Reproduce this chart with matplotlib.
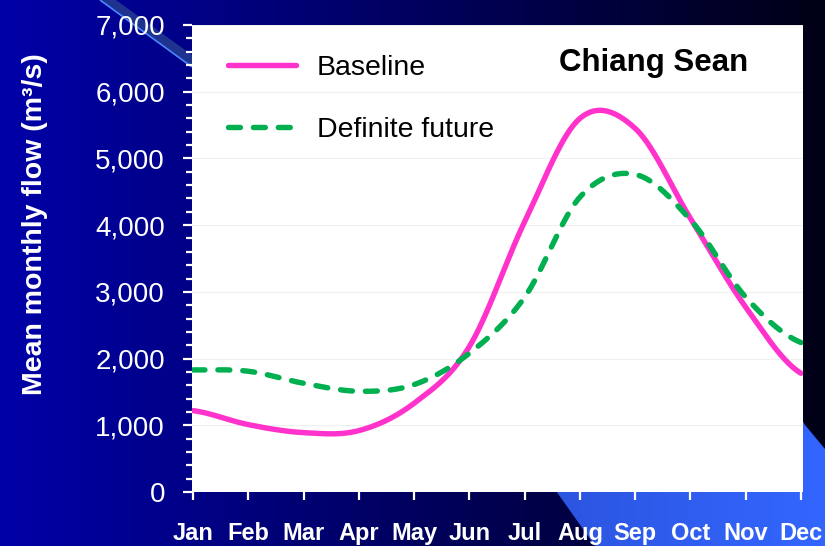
import numpy as np
import matplotlib
matplotlib.use("Agg")
import matplotlib.pyplot as plt
from matplotlib.ticker import MultipleLocator, FixedLocator, FixedFormatter
from matplotlib.patches import Polygon

# ---- data -------------------------------------------------------------
months = ["Jan", "Feb", "Mar", "Apr", "May", "Jun",
          "Jul", "Aug", "Sep", "Oct", "Nov", "Dec"]
baseline = [1220, 1010, 890, 920, 1330, 2180, 4050, 5600, 5450, 4100, 2770, 1780]
definite_future = [1830, 1810, 1630, 1510, 1610, 2080, 2920, 4420, 4760, 4080, 2920, 2240]
y_ticks = [0, 1000, 2000, 3000, 4000, 5000, 6000, 7000]
y_tick_labels = ["0", "1,000", "2,000", "3,000", "4,000", "5,000", "6,000", "7,000"]
station = "Chiang Sean"
y_title = "Mean monthly flow (m³/s)"


def smooth(values, steps=40):
    """Catmull-Rom spline through evenly spaced points (like a smoothed line)."""
    y = np.asarray(values, float)
    p = np.concatenate([[y[0]], y, [y[-1]]])
    xs, ys = [], []
    t = np.linspace(0, 1, steps, endpoint=False)
    for i in range(len(y) - 1):
        p0, p1, p2, p3 = p[i], p[i + 1], p[i + 2], p[i + 3]
        seg = 0.5 * ((2 * p1) + (-p0 + p2) * t
                     + (2 * p0 - 5 * p1 + 4 * p2 - p3) * t ** 2
                     + (-p0 + 3 * p1 - 3 * p2 + p3) * t ** 3)
        xs.append(i + t)
        ys.append(seg)
    xs.append([len(y) - 1])
    ys.append([y[-1]])
    return np.concatenate(xs), np.concatenate(ys)


W, H = 825, 546
fig = plt.figure(figsize=(W / 100, H / 100), dpi=100)

# ---- slide background -------------------------------------------------
bg = fig.add_axes([0, 0, 1, 1], zorder=-10)
bg.set_xlim(0, W)
bg.set_ylim(H, 0)
bg.axis("off")
grad = np.linspace(0, 1, 256)
cols = np.zeros((1, 256, 3))
cols[0, :, 2] = (168 - 146 * grad) / 255
bg.imshow(cols, extent=[0, W, H, 0], aspect="auto", interpolation="bilinear")

# bright blue wedge, lower right
wedge = Polygon([(595, 546), (520, 440), (790, 400), (805, 425), (825, 449), (825, 546)],
                closed=True, facecolor="none", edgecolor="none")
bg.add_patch(wedge)
g2 = np.linspace(0, 1, 256)
wcols = np.zeros((1, 256, 3))
wcols[0, :, 0] = (44 + 7 * g2) / 255
wcols[0, :, 1] = (84 + 18 * g2) / 255
wcols[0, :, 2] = (222 + 33 * g2) / 255
im = bg.imshow(wcols, extent=[540, W, H, 380], aspect="auto", interpolation="bilinear")
im.set_clip_path(wedge)

# thin diagonal band, upper left
bg.add_patch(Polygon([(100, 0), (116, 0), (192, 55), (192, 67)], closed=True,
                     facecolor="#1e3290", edgecolor="none"))
bg.plot([100, 192], [0, 67], color="#4a86ff", lw=1.2, solid_capstyle="butt")

# ---- chart ------------------------------------------------------------
left, right, bottom, top = 192, 803, 492, 25
ax = fig.add_axes([left / W, 1 - bottom / H, (right - left) / W, (bottom - top) / H])
ax.set_facecolor("white")
ppu = (801 - 193) / 11
ax.set_xlim(-(193 - left) / ppu, 11 + (right - 801) / ppu)
ax.set_ylim(0, 7000)

for s in ax.spines.values():
    s.set_visible(False)

ax.yaxis.set_major_locator(FixedLocator(y_ticks))
ax.yaxis.set_major_formatter(FixedFormatter(y_tick_labels))
ax.yaxis.set_minor_locator(MultipleLocator(200))
ax.set_xticks(range(len(months)))
ax.set_xticklabels(months)

ax.grid(axis="y", which="major", color="#f0f0f0", lw=0.8)
ax.set_axisbelow(True)

ax.tick_params(axis="y", which="major", length=6.5, width=1.6, color="white",
               pad=13, labelsize=20, labelcolor="white")
ax.tick_params(axis="y", which="minor", length=4.5, width=1.6, color="white")
ax.tick_params(axis="x", which="major", length=6, width=1.6, color="white",
               pad=15.5, labelsize=17, labelcolor="white")
for lab in ax.get_yticklabels():
    lab.set_family(["Liberation Sans", "DejaVu Sans"])
for lab in ax.get_xticklabels():
    lab.set_family(["Liberation Sans", "DejaVu Sans"])
    lab.set_fontweight("bold")

xb, yb = smooth(baseline)
xf, yf = smooth(definite_future)
ax.plot(xb, yb, color="#ff33cc", lw=3.9, label="Baseline", solid_capstyle="round")
ax.plot(xf, yf, color="#00b050", lw=3.9, label="Definite future",
        linestyle=(0, (2.2, 2.4)), dash_capstyle="round")

leg = ax.legend(loc="upper left", bbox_to_anchor=(36 / 611, 1 - 30 / 467),
                frameon=False, borderpad=0, borderaxespad=0,
                handlelength=2.4, handletextpad=0.72, labelspacing=1.28,
                prop={"family": ["Liberation Sans", "DejaVu Sans"], "size": 20.5})

ax.text((654 - left) / (right - left), 1 - 38 / (bottom - top), station,
        transform=ax.transAxes, ha="center", va="center",
        fontsize=22.5, fontweight="bold", color="black",
        family=["Liberation Sans", "DejaVu Sans"])

fig.text(35 / W, 1 - 224 / H, y_title, rotation=90, ha="center", va="center",
         fontsize=20.5, fontweight="bold", color="white",
         family=["Liberation Sans", "DejaVu Sans"])

fig.savefig("out.png", dpi=100)
